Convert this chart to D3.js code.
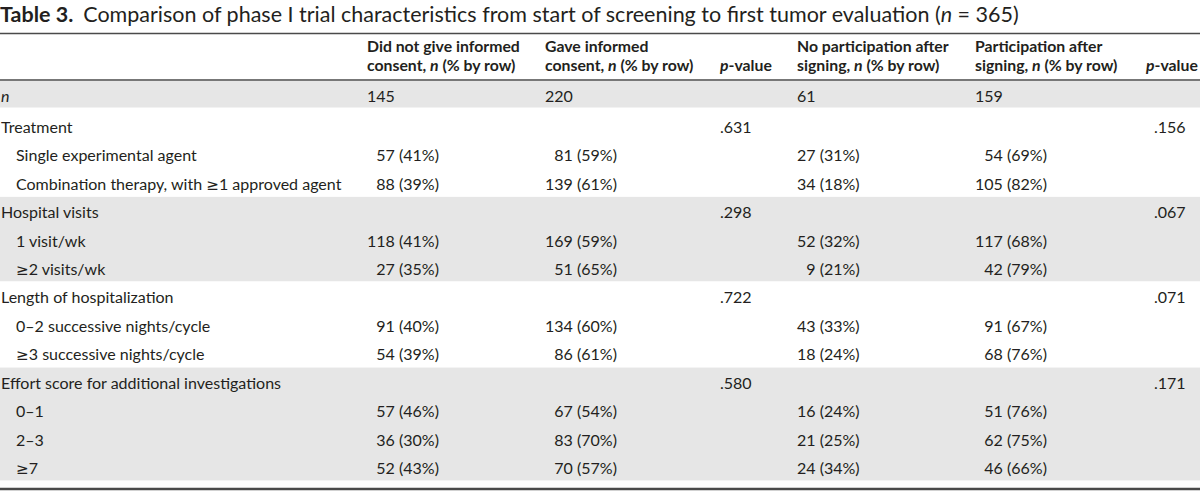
<!DOCTYPE html>
<html><head><meta charset="utf-8">
<script src="https://cdn.jsdelivr.net/npm/d3@7"></script>
<style>
html,body{margin:0;padding:0;background:#fff;}
svg{display:block;}
</style></head>
<body>
<svg id="chart" width="1200" height="491"></svg>
<script>
// ---------------- data ----------------
const titleBold = "Table 3.";
const titleText = ["Comparison of phase I trial characteristics from start of screening to first tumor evaluation (", "n", " = 365)"];
const headerLine1 = ["Did not give informed", "Gave informed", "", "No participation after", "Participation after", ""];
const headerLine2 = ["consent,", "consent,", "", "signing,", "signing,", ""];
const totals = [145, 220, null, 61, 159, null];
const rowLabels = [
  "Treatment", "Single experimental agent", "Combination therapy, with \u22651 approved agent",
  "Hospital visits", "1 visit/wk", "\u22652 visits/wk",
  "Length of hospitalization", "0\u20132 successive nights/cycle", "\u22653 successive nights/cycle",
  "Effort score for additional investigations", "0\u20131", "2\u20133", "\u22657"
];
const rowLevel = [0,1,1, 0,1,1, 0,1,1, 0,1,1,1];
const noConsentN   = [null,57,88, null,118,27, null,91,54, null,57,36,52];
const noConsentPct = [null,41,39, null,41,35,  null,40,39, null,46,30,43];
const consentN     = [null,81,139, null,169,51, null,134,86, null,67,83,70];
const consentPct   = [null,59,61,  null,59,65,  null,60,61,  null,54,70,57];
const pConsent     = [".631",null,null, ".298",null,null, ".722",null,null, ".580",null,null,null];
const noPartN      = [null,27,34, null,52,9,  null,43,18, null,16,21,24];
const noPartPct    = [null,31,18, null,32,21, null,33,24, null,24,25,34];
const partN        = [null,54,105, null,117,42, null,91,68, null,51,62,46];
const partPct      = [null,69,82,  null,68,79,  null,67,76, null,76,75,66];
const pPart        = [".156",null,null, ".067",null,null, ".071",null,null, ".171",null,null,null];
const shadedGroups = [[3,5],[9,12]];

// ---------------- layout ----------------
const svg = d3.select("#chart");
const W = 1200;
const ink = "#231f20";
const font = "Lato, 'Open Sans', sans-serif";
const symFont = "'DejaVu Sans', sans-serif";

// measure helper
const meas = svg.append("text").attr("font-family", font).attr("x", -1000).attr("y", -1000);
function textW(str, size, weight) {
  meas.attr("font-size", size).attr("font-weight", weight || "normal").text(str);
  return meas.node().getComputedTextLength();
}
const bodySize = 100 * 322 / textW(rowLabels[2], 100);
const headSize = 100 * 153 / textW(headerLine1[0], 100, "bold");
const titleGap = 10;
const titleSize = Math.min(21.5, 100 * (1028 - titleGap) / (textW(titleBold, 100, "bold") + textW(titleText.join(""), 100)));

const y = d3.scaleLinear().domain([0, rowLabels.length - 1]).range([127, 468.4]);
const colKeys = ["c1","c2","p1","c3","c4","p2"];
const x = d3.scaleOrdinal().domain(colKeys).range([367, 545, 720, 797, 975, 1146]);
const capHalf = bodySize * 0.36;

// write text, rendering the ≥ sign in a math-like font
function richText(sel, str) {
  str.split(/(\u2265)/).filter(s => s.length).forEach(part => {
    const ts = sel.append("tspan").text(part);
    if (part === "\u2265") ts.attr("font-family", symFont).attr("font-size", bodySize * 0.95);
  });
}

// shaded bands
svg.append("rect").attr("x", 0).attr("width", W).attr("y", 81).attr("height", 26.5).attr("fill", "#e6e6e6");
svg.selectAll("rect.band").data(shadedGroups).enter().append("rect")
  .attr("class", "band")
  .attr("x", 0).attr("width", W)
  .attr("y", d => y(d[0]) - 15.5)
  .attr("height", d => y(d[1]) + 12 - (y(d[0]) - 15.5))
  .attr("fill", "#e6e6e6");

// rules
svg.append("line").attr("x1",0).attr("x2",W).attr("y1",33.5).attr("y2",33.5).attr("stroke","#4a4a4a").attr("stroke-width",1.6);
svg.append("line").attr("x1",0).attr("x2",W).attr("y1",80).attr("y2",80).attr("stroke","#4a4a4a").attr("stroke-width",1.6);
svg.append("line").attr("x1",0).attr("x2",W).attr("y1",489).attr("y2",489).attr("stroke","#4a4a4a").attr("stroke-width",2.6);

// title
const t = svg.append("text").attr("x", 0).attr("y", 21.5).attr("font-family", font).attr("font-size", titleSize).attr("fill", ink);
t.append("tspan").attr("font-weight", "bold").text(titleBold);
t.append("tspan").attr("dx", titleGap).text(titleText[0]);
t.append("tspan").attr("font-style", "italic").text(titleText[1]);
t.append("tspan").text(titleText[2]);

// header
const hdr = svg.append("g").attr("font-family", font).attr("font-size", headSize).attr("font-weight", "bold").attr("fill", ink);
colKeys.forEach((k, i) => {
  if (headerLine1[i]) {
    hdr.append("text").attr("x", x(k)).attr("y", 52).text(headerLine1[i]);
    const l2 = hdr.append("text").attr("x", x(k)).attr("y", 70.5);
    l2.append("tspan").text(headerLine2[i] + " ");
    l2.append("tspan").attr("font-style", "italic").text("n");
    l2.append("tspan").text(" (% by row)");
  } else {
    const l2 = hdr.append("text").attr("x", x(k)).attr("y", 70.5);
    l2.append("tspan").attr("font-style", "italic").text("p");
    l2.append("tspan").text("-value");
  }
});

const body = svg.append("g").attr("font-family", font).attr("font-size", bodySize).attr("fill", ink);

// n row
body.append("text").attr("x", 1).attr("y", 101.5).attr("font-style", "italic").text("n");
body.selectAll("text.tot").data(colKeys.map((k,i) => ({k, v: totals[i]})).filter(d => d.v !== null))
  .enter().append("text").attr("class","tot")
  .attr("x", d => x(d.k)).attr("y", 101.5).text(d => d.v);

// row labels
body.selectAll("text.lab").data(rowLabels).enter().append("text").attr("class","lab")
  .attr("x", (d,i) => rowLevel[i] ? 16 : 1)
  .attr("y", (d,i) => y(i) + capHalf)
  .each(function(d) { richText(d3.select(this), d); });

// value columns (right aligned so the widest entry starts at the column edge)
const valueCols = [
  {k:"c1", n:noConsentN, p:noConsentPct, ref:"000 (00%)"},
  {k:"c2", n:consentN, p:consentPct, ref:"000 (00%)"},
  {k:"c3", n:noPartN, p:noPartPct, ref:"00 (00%)"},
  {k:"c4", n:partN, p:partPct, ref:"000 (00%)"}
];
valueCols.forEach(c => {
  const end = x(c.k) + textW(c.ref, bodySize);
  body.selectAll("text.v" + c.k).data(c.n.map((v,i) => ({v, pc:c.p[i], i})).filter(d => d.v !== null))
    .enter().append("text").attr("class", "v" + c.k)
    .attr("x", end).attr("text-anchor", "end")
    .attr("y", d => y(d.i) + capHalf)
    .text(d => `${d.v} (${d.pc}%)`);
});

// p-values
[{k:"p1", v:pConsent, dx:0}, {k:"p2", v:pPart, dx:8}].forEach(c => {
  body.selectAll("text.pv" + c.k).data(c.v.map((v,i) => ({v,i})).filter(d => d.v !== null))
    .enter().append("text").attr("class","pv" + c.k)
    .attr("x", x(c.k) + c.dx).attr("y", d => y(d.i) + capHalf)
    .text(d => d.v);
});
meas.remove();
</script>
</body></html>
